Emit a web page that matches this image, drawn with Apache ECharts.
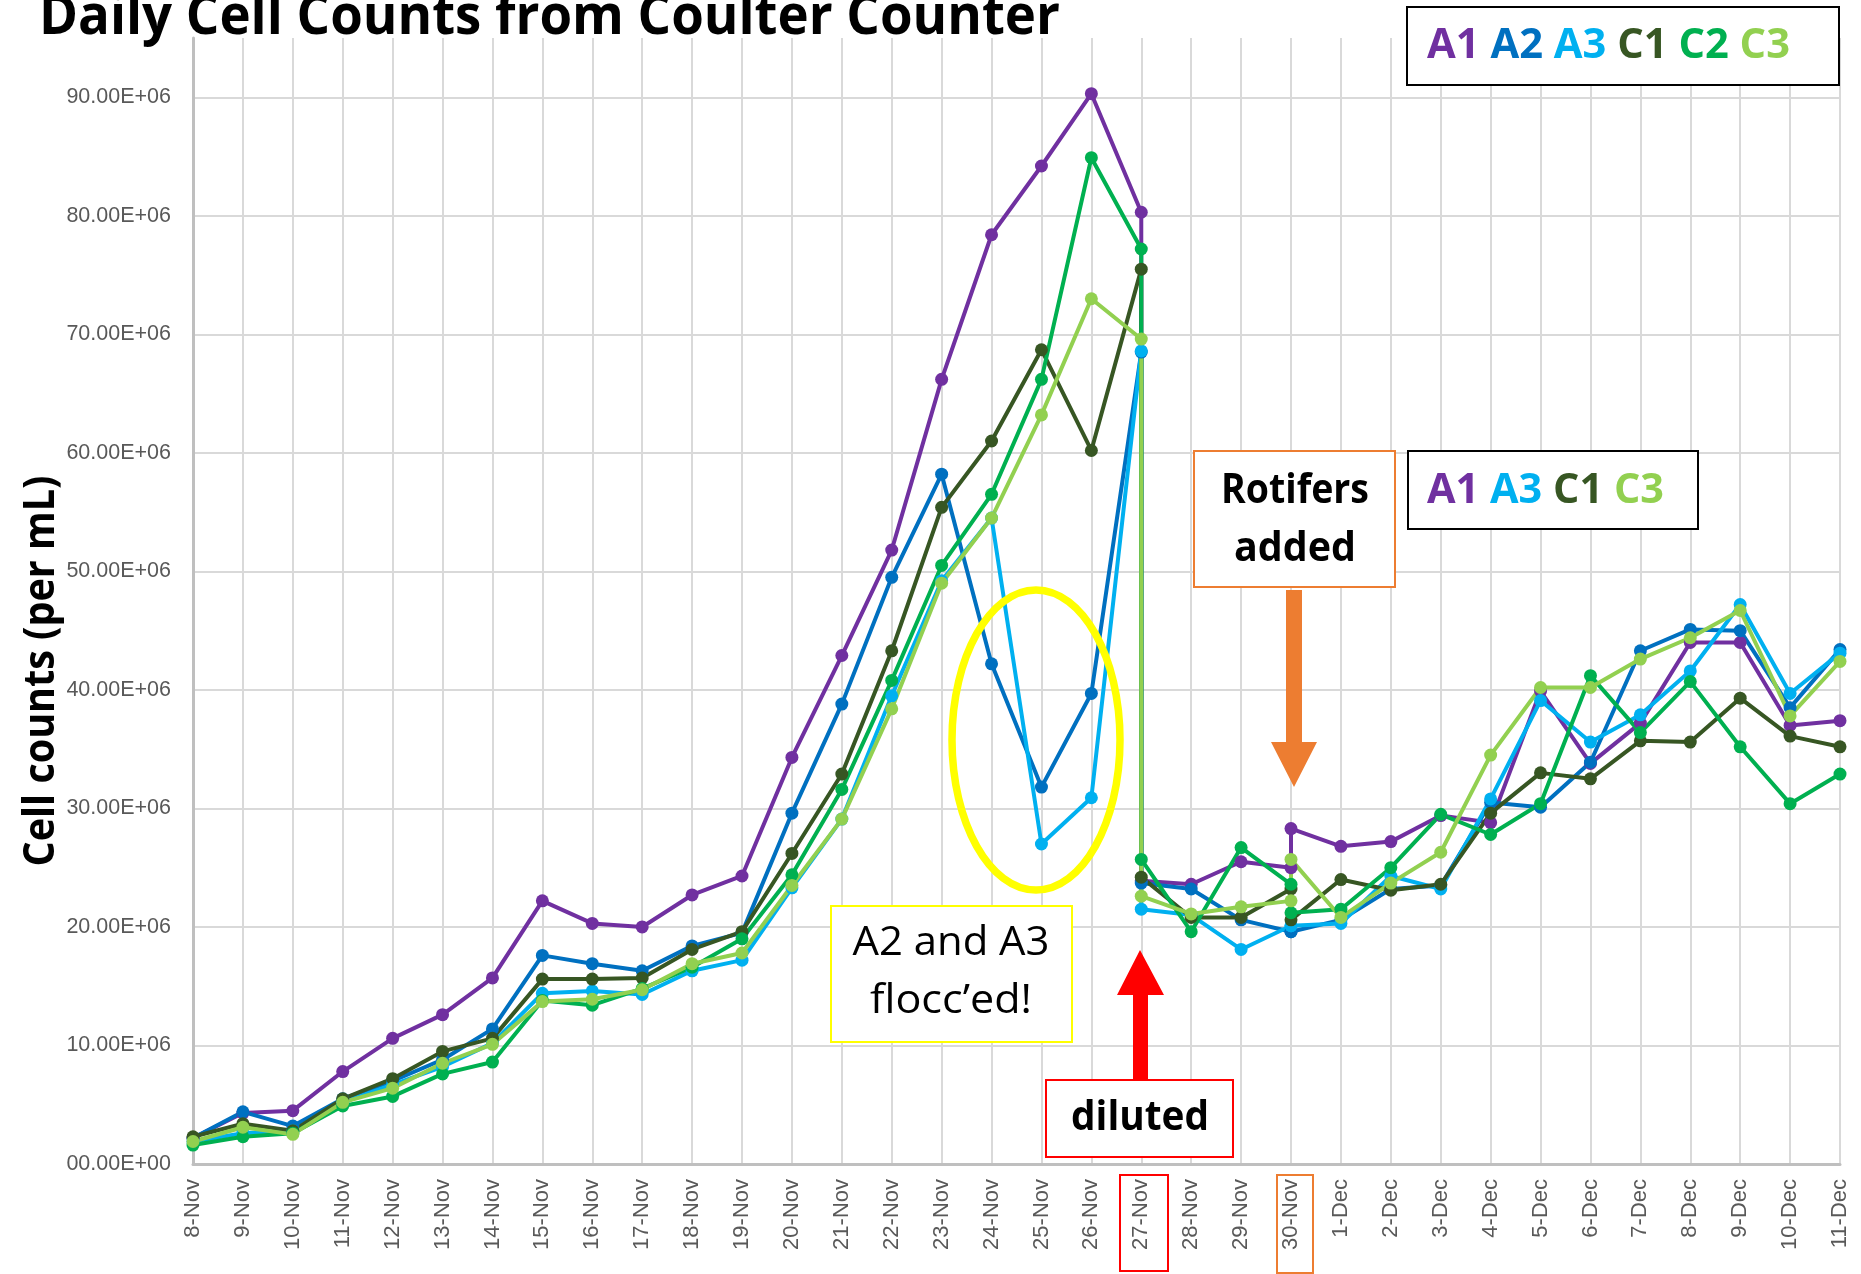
<!DOCTYPE html>
<html>
<head>
<meta charset="utf-8">
<title>Daily Cell Counts from Coulter Counter</title>
<script src="https://cdn.jsdelivr.net/npm/echarts@6/dist/echarts.min.js"></script>
<style>
  html, body { margin: 0; padding: 0; background: #fff; }
  #chart { width: 1861px; height: 1274px; }
</style>
</head>
<body>
<div id="chart"></div>
<script>
// x axis day labels
const dates = [
    '8-Nov', '9-Nov', '10-Nov', '11-Nov', '12-Nov', '13-Nov', '14-Nov', '15-Nov', '16-Nov',
    '17-Nov', '18-Nov', '19-Nov', '20-Nov', '21-Nov', '22-Nov', '23-Nov', '24-Nov', '25-Nov',
    '26-Nov', '27-Nov', '28-Nov', '29-Nov', '30-Nov', '1-Dec', '2-Dec', '3-Dec', '4-Dec',
    '5-Dec', '6-Dec', '7-Dec', '8-Dec', '9-Dec', '10-Dec', '11-Dec',
]

// day index of each reading (27-Nov and 30-Nov were counted twice: before / after)
const xPos = [0, 1, 2, 3, 4, 5, 6, 7, 8, 9, 10, 11, 12, 13, 14, 15, 16, 17, 18, 19, 19,
    20, 21, 22, 22, 23, 24, 25, 26, 27, 28, 29, 30, 31, 32, 33]

// cell counts, millions per mL
const A1 = [2.2, 4.3, 4.5, 7.8, 10.6, 12.6, 15.7, 22.2, 20.3, 20.0, 22.7, 24.3, 34.3, 42.9, 51.8, 66.2, 78.4, 84.2, 90.3, 80.3,
    23.9, 23.6, 25.5, 25.0, 28.3, 26.8, 27.2, 29.4, 28.8, 39.9, 33.8, 37.2, 44.0, 44.0, 37.0, 37.4]
const A2 = [2.2, 4.4, 3.2, 5.5, 7.0, 8.8, 11.4, 17.6, 16.9, 16.3, 18.4, 19.5, 29.6, 38.8, 49.5, 58.2, 42.2, 31.8, 39.7, 68.5,
    23.7, 23.2, 20.6, 19.6, 19.6, 20.6, 23.2, 23.5, 30.5, 30.1, 33.9, 43.3, 45.1, 45.0, 38.5, 43.4]
const A3 = [1.9, 2.6, 2.8, 5.2, 6.7, 8.2, 10.2, 14.4, 14.6, 14.3, 16.3, 17.2, 23.3, 29.1, 39.5, 49.2, 54.5, 27.0, 30.9, 68.6,
    21.5, 21.0, 18.1, 20.1, 20.1, 20.3, 24.3, 23.2, 30.8, 39.1, 35.6, 37.9, 41.6, 47.2, 39.7, 43.1]
const C1 = [2.3, 3.4, 2.8, 5.5, 7.2, 9.5, 10.6, 15.6, 15.6, 15.7, 18.1, 19.6, 26.2, 32.9, 43.3, 55.4, 61.0, 68.7, 60.2, 75.5,
    24.2, 20.8, 20.8, 23.2, 20.6, 24.0, 23.1, 23.6, 29.6, 33.0, 32.5, 35.7, 35.6, 39.3, 36.1, 35.2]
const C2 = [1.6, 2.3, 2.6, 4.9, 5.7, 7.6, 8.6, 13.8, 13.4, 14.8, 16.6, 19.0, 24.4, 31.6, 40.8, 50.5, 56.5, 66.2, 84.9, 77.2,
    25.7, 19.6, 26.7, 23.6, 21.2, 21.5, 25.0, 29.5, 27.8, 30.4, 41.2, 36.4, 40.7, 35.2, 30.4, 32.9]
const C3 = [1.9, 3.1, 2.5, 5.2, 6.4, 8.5, 10.1, 13.7, 13.9, 14.7, 16.9, 17.8, 23.5, 29.1, 38.4, 49.0, 54.5, 63.2, 73.0, 69.6,
    22.6, 21.1, 21.7, 22.2, 25.7, 20.8, 23.7, 26.3, 34.5, 40.2, 40.2, 42.6, 44.4, 46.7, 37.8, 42.4]

const names = ['A1', 'A2', 'A3', 'C1', 'C2', 'C3']
const values = [A1, A2, A3, C1, C2, C3]
const colors = ['#7030A0', '#0070C0', '#00B0F0', '#375623', '#00B050', '#92D050']

// squeeze text horizontally so it takes the width it has in the picture
const measureCtx = document.createElement('canvas').getContext('2d')
const fitScale = (text, font, width) => {
    measureCtx.font = font
    return width / measureCtx.measureText(text).width
}

const BOLD = '700 42px "Open Sans"'
const REG = '400 41px "Open Sans"'

const textEl = (text, x, y, font, width, align, extra) => ({
    type: 'text',
    x, y, z: 30,
    scaleX: fitScale(text, font, width),
    style: Object.assign({ text, font, fill: '#000', align: align || 'center', verticalAlign: 'middle' }, extra || {}),
})

const richLegend = (keys, x, y, width) => {
    const rich = {}
    keys.forEach(k => {
        rich[k] = { font: BOLD, fill: colors[names.indexOf(k)] }
    })
    const plain = keys.join(' ')
    return textEl(plain, x, y, BOLD, width, 'left', {
        text: keys.map(k => `{${k}|${k}}`).join(' '),
        rich,
    })
}

const boxEl = (x, y, width, height, stroke, fill) => ({
    type: 'rect', z: 20,
    shape: { x, y, width, height },
    style: { fill: fill || '#fff', stroke, lineWidth: 2 },
})

const chart = echarts.init(document.getElementById('chart'))

const option = {
    backgroundColor: '#fff',
    animation: false,
    grid: { left: 193, right: 21, top: 38, bottom: 110, outerBoundsMode: 'none' },
    xAxis: {
        type: 'value',
        min: 0,
        max: 33,
        interval: 1,
        axisLine: { onZero: false, lineStyle: { color: '#BFBFBF', width: 3 } },
        axisTick: { show: false },
        splitLine: { show: true, lineStyle: { color: '#D9D9D9', width: 2 } },
        axisLabel: {
            rotate: 90,
            margin: 15,
            color: '#595959',
            fontSize: 22,
            fontFamily: 'Liberation Sans',
            formatter: v => dates[v] || '',
        },
    },
    yAxis: {
        type: 'value',
        min: 0,
        max: 95,
        interval: 10,
        axisLine: { show: true, lineStyle: { color: '#BFBFBF', width: 3 } },
        axisTick: { show: false },
        splitLine: { show: true, showMaxLine: false, lineStyle: { color: '#D9D9D9', width: 2 } },
        axisLabel: {
            margin: 22,
            color: '#595959',
            fontSize: 21.5,
            fontFamily: 'Liberation Sans',
            showMaxLabel: false,
            formatter: v => v === 0 ? '00.00E+00' : v.toFixed(2) + 'E+06',
        },
    },
    series: names.map((name, s) => ({
        name,
        type: 'line',
        data: xPos.map((x, i) => [x, values[s][i]]),
        symbol: 'circle',
        symbolSize: 13,
        showSymbol: true,
        clip: false,
        lineStyle: { color: colors[s], width: 4 },
        itemStyle: { color: colors[s] },
        emphasis: { disabled: true },
    })),
    graphic: [
        // axis labels are cut off at the bottom edge in the original
        { type: 'rect', z: 15, shape: { x: 0, y: 1250, width: 1861, height: 30 }, style: { fill: '#fff' } },

        textEl('Daily Cell Counts from Coulter Counter', 39, 18, '700 56px "Open Sans"', 1021, 'left'),
        Object.assign(textEl('Cell counts (per mL)', 42, 671, '700 43px "Open Sans"', 391), { rotation: Math.PI / 2 }),

        // legends
        boxEl(1407, 7, 432, 78, '#000'),
        richLegend(['A1', 'A2', 'A3', 'C1', 'C2', 'C3'], 1427, 46, 363),
        boxEl(1408, 451, 290, 78, '#000'),
        richLegend(['A1', 'A3', 'C1', 'C3'], 1427, 491, 237),

        // rotifers note + arrow
        boxEl(1194, 451, 201, 136, '#ED7D31'),
        textEl('Rotifers', 1295, 491, BOLD, 148),
        textEl('added', 1295, 549, BOLD, 122),
        {
            type: 'polygon', z: 20,
            shape: { points: [[1286, 590], [1302, 590], [1302, 742], [1317, 742], [1294, 787], [1271, 742], [1286, 742]] },
            style: { fill: '#ED7D31' },
        },

        // floc note
        {
            type: 'ellipse', z: 20,
            shape: { cx: 1036, cy: 740, rx: 84, ry: 150 },
            style: { fill: 'none', stroke: '#FFFF00', lineWidth: 7.5 },
        },
        boxEl(831, 906, 241, 136, '#FFFF00'),
        textEl('A2 and A3', 951, 943, REG, 197),
        textEl('flocc\u2019ed!', 951, 1001, REG, 162),

        // dilution note + arrow
        boxEl(1046, 1080, 187, 77, '#FF0000'),
        textEl('diluted', 1140, 1118, BOLD, 138),
        {
            type: 'polygon', z: 20,
            shape: { points: [[1133, 1080], [1148, 1080], [1148, 995], [1164, 995], [1140, 950], [1117, 995], [1133, 995]] },
            style: { fill: '#FF0000' },
        },

        // boxes round the 27-Nov and 30-Nov tick labels
        boxEl(1120, 1175, 48, 96, '#FF0000', 'none'),
        boxEl(1277, 1175, 36, 98, '#ED7D31', 'none'),
    ],
}

option && chart.setOption(option)
</script>
</body>
</html>
